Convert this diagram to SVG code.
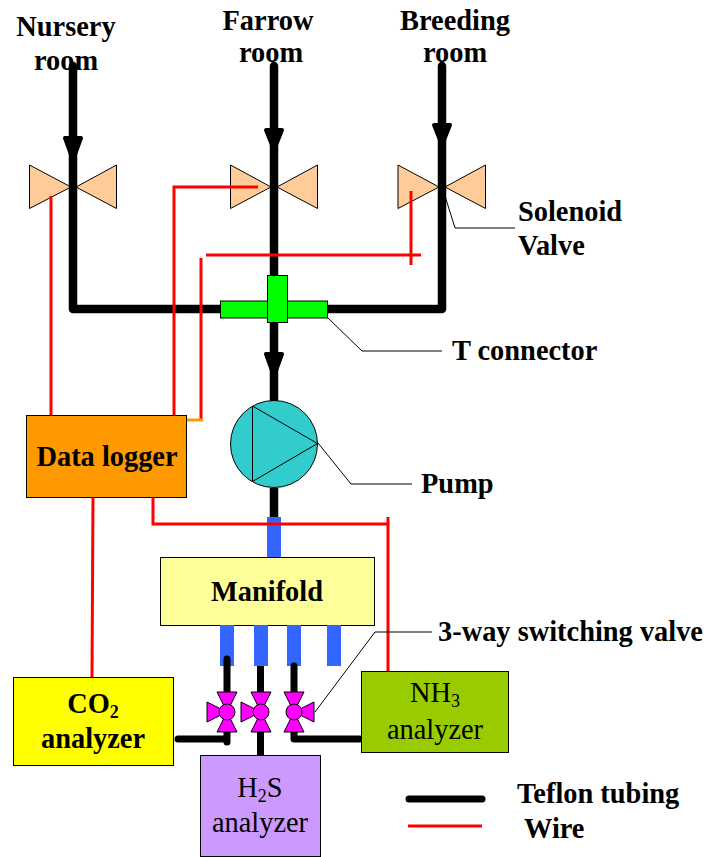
<svg xmlns="http://www.w3.org/2000/svg" width="708" height="857" viewBox="0 0 708 857">
<style>
text{font-family:"Liberation Serif","Times New Roman",serif;font-size:28.400px;fill:#000}
.b{font-weight:bold}
.m{text-anchor:middle}
.tube{fill:none;stroke:#000;stroke-width:8.500;stroke-linejoin:round;stroke-linecap:round}
.thin{stroke-width:7}
.wire{fill:none;stroke:#f00;stroke-width:3}
.lead{fill:none;stroke:#000;stroke-width:1}
.valve{fill:#fc9;stroke:#000;stroke-width:1}
.sw{fill:#f0f;stroke:#000;stroke-width:1}
.blue{fill:#36f}
.box{stroke:#000;stroke-width:1}
.ah{fill:#000;stroke:#000;stroke-width:4;stroke-linejoin:round}
</style>
<g id="valve-nursery"><path class="valve" d="M29.500 165L71 187L29.500 208.500Z"/><path class="valve" d="M116.500 165L76 187L116.500 208.500Z"/></g>
<g id="valve-farrow"><path class="valve" d="M230.500 165L271 187L230.500 208.500Z"/><path class="valve" d="M317.500 165L277 187L317.500 208.500Z"/></g>
<g id="valve-breeding"><path class="valve" d="M398 165L439 187L398 208.500Z"/><path class="valve" d="M485.500 165L445 187L485.500 208.500Z"/></g>
<g id="manifold">
<rect class="blue" x="267" y="517" width="14" height="41"/>
<rect class="box" x="160.500" y="557.500" width="214" height="68" fill="#ff9"/>
<text class="b m" x="267" y="601">Manifold</text>
<rect class="blue" x="220" y="625" width="14" height="41"/>
<rect class="blue" x="254" y="625" width="14" height="41"/>
<rect class="blue" x="287" y="625" width="14" height="41"/>
<rect class="blue" x="327" y="625" width="14" height="41"/>
</g>
<g id="connectors">
<path class="tube" d="M73 66V309H442V66"/>
<path class="tube" d="M274 66V400"/>
<path class="tube" d="M274 488V517" style="stroke-linecap:butt"/>
<path class="ah" d="M65 138H81L73 160Z"/>
<path class="ah" d="M266 130H282L274 150Z"/>
<path class="ah" d="M434 125H450L442 145Z"/>
<path class="ah" d="M266 354H282L274 376Z"/>
<path class="tube thin" d="M227 659V742M178 739H227"/>
<path class="tube thin" d="M260.500 666V756" style="stroke-linecap:butt"/>
<path class="tube thin" d="M294 666V739H360"/>
<path class="wire" d="M51 196V415"/>
<path class="wire" d="M258 187H174V415"/>
<path class="wire" d="M411 191V265"/>
<path class="wire" d="M206 255H421"/>
<path class="wire" d="M201 258V420"/>
<path d="M187 420H203" fill="none" stroke="#f90" stroke-width="3"/>
<path class="wire" d="M153 497V524H388"/>
<path class="wire" d="M388 517V672"/>
<path class="wire" d="M93 497L92 677"/>
<path class="lead" d="M445 196L455 228H515"/>
<path class="lead" d="M328 318L362 351H442"/>
<path class="lead" d="M318 443L351 484H412"/>
<path class="lead" d="M315 712L375 632H432"/>
</g>
<g id="t-connector">
<rect x="220.500" y="301" width="107" height="17" fill="#0f0" stroke="#000"/>
<rect x="267.500" y="275.500" width="20" height="47" fill="#0f0" stroke="#000"/>
</g>
<g id="data-logger">
<rect class="box" x="26.500" y="415.500" width="160" height="82" fill="#f90"/>
<text class="b m" x="107" y="466">Data logger</text>
</g>
<g id="pump">
<circle cx="274" cy="444" r="43.500" fill="#3cc" stroke="#000"/>
<path d="M252.500 406V481.500L317.500 443.500Z" fill="#3cc" stroke="#000"/>
</g>
<g id="switch-valve-1">
<path class="sw" d="M217 692H237L227 712L237 732H217L227 712Z"/>
<path class="sw" d="M207 702L227 712L207 722Z"/>
<circle class="sw" cx="227" cy="712" r="8"/>
</g>
<g id="switch-valve-2">
<path class="sw" d="M251 692H271L261 712L271 732H251L261 712Z"/>
<path class="sw" d="M241 702L261 712L241 722Z"/>
<circle class="sw" cx="261" cy="712" r="8"/>
</g>
<g id="switch-valve-3">
<path class="sw" d="M284 692H304L294 712L304 732H284L294 712Z"/>
<path class="sw" d="M314 702L294 712L314 722Z"/>
<circle class="sw" cx="294" cy="712" r="8"/>
</g>
<g id="co2-analyzer">
<rect class="box" x="13.500" y="677.500" width="160" height="88" fill="#ff0"/>
<text class="b m" x="93" y="713">CO<tspan font-size="18" dy="5">2</tspan></text>
<text class="b m" x="93" y="748">analyzer</text>
</g>
<g id="nh3-analyzer">
<rect class="box" x="361.500" y="671.500" width="147" height="81" fill="#9c0"/>
<text class="m" x="435" y="702">NH<tspan font-size="18" dy="5">3</tspan></text>
<text class="m" x="435" y="739">analyzer</text>
</g>
<g id="h2s-analyzer">
<rect class="box" x="200.500" y="755.500" width="120" height="101" fill="#c9f"/>
<text class="m" x="260" y="797">H<tspan font-size="18" dy="5">2</tspan><tspan dy="-5">S</tspan></text>
<text class="m" x="260" y="832">analyzer</text>
</g>
<g id="labels">
<text class="b m" x="66" y="36">Nursery</text>
<text class="b m" x="66" y="70">room</text>
<text class="b m" x="268" y="30">Farrow</text>
<text class="b m" x="271" y="62">room</text>
<text class="b m" x="455" y="30">Breeding</text>
<text class="b m" x="455" y="62">room</text>
<text class="b" x="518" y="221">Solenoid</text>
<text class="b" x="518" y="255">Valve</text>
<text class="b" x="452" y="360">T connector</text>
<text class="b" x="421" y="493">Pump</text>
<text class="b" x="438" y="641">3-way switching valve</text>
<text class="b" x="517" y="803">Teflon tubing</text>
<text class="b" x="524" y="838">Wire</text>
</g>
<g id="legend">
<path d="M409 799H482" fill="none" stroke="#000" stroke-width="7" stroke-linecap="round"/>
<path class="wire" d="M408 826H482"/>
</g>
</svg>
